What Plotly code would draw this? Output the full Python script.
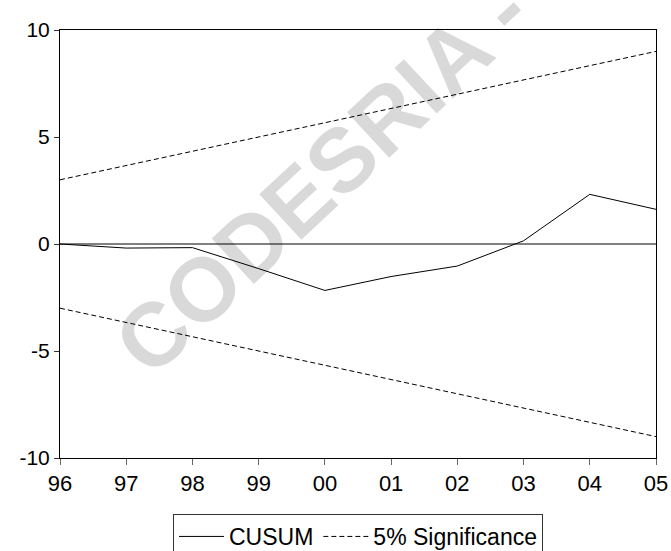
import plotly.graph_objects as go

years = ["96", "97", "98", "99", "00", "01", "02", "03", "04", "05"]
cusum = [0.0, -0.19, -0.17, -1.15, -2.17, -1.52, -1.03, 0.15, 2.32, 1.62]
upper = [3.0, 3.67, 4.33, 5.0, 5.67, 6.33, 7.0, 7.67, 8.33, 9.0]
lower = [-3.0, -3.67, -4.33, -5.0, -5.67, -6.33, -7.0, -7.67, -8.33, -9.0]
ytick_vals = [-10, -5, 0, 5, 10]
ytick_text = ["-10", "-5", "0", "5", "10"]

FONT = "Liberation Sans, Arial, sans-serif"

fig = go.Figure()
fig.add_trace(go.Scatter(x=years, y=cusum, mode="lines", name="CUSUM",
                         line=dict(color="black", width=1)))
fig.add_trace(go.Scatter(x=years, y=upper, mode="lines", name="5% Significance",
                         line=dict(color="black", width=1, dash="5px,3px")))
fig.add_trace(go.Scatter(x=years, y=lower, mode="lines", name="5% Significance",
                         showlegend=False,
                         line=dict(color="black", width=1, dash="5px,3px")))

fig.add_annotation(text="CODESRIA -", xref="paper", yref="paper",
                   x=0.4396, y=0.654, xanchor="center", yanchor="middle",
                   textangle=-43, showarrow=False,
                   font=dict(family=FONT, size=90, weight="bold",
                             color="rgba(0,0,0,0.15)"))

fig.update_layout(
    width=671, height=551,
    margin=dict(l=60, r=15, t=30, b=93, autoexpand=False),
    paper_bgcolor="white", plot_bgcolor="white",
    font=dict(family=FONT, color="black"),
    showlegend=True,
    legend=dict(orientation="h", x=0.5, xanchor="center", y=-0.1308, yanchor="top",
                bordercolor="#333", borderwidth=1, font=dict(size=23),
                itemwidth=45, tracegroupgap=0),
    xaxis=dict(type="category", range=[0, 9], showgrid=False, zeroline=False,
               showline=True, linecolor="black", linewidth=1, mirror=True,
               ticks="outside", ticklen=6, tickcolor="#666",
               tickfont=dict(size=22)),
    yaxis=dict(range=[-10, 10], tickmode="array", tickvals=ytick_vals,
               ticktext=ytick_text, showgrid=False,
               zeroline=True, zerolinecolor="#808080", zerolinewidth=1.5,
               showline=True, linecolor="black", linewidth=1, mirror=True,
               ticks="outside", ticklen=5, tickcolor="#333",
               tickfont=dict(size=21)),
)

fig.write_html("out.html", config={"displayModeBar": False},
               post_script="document.body.style.margin='0px';")
